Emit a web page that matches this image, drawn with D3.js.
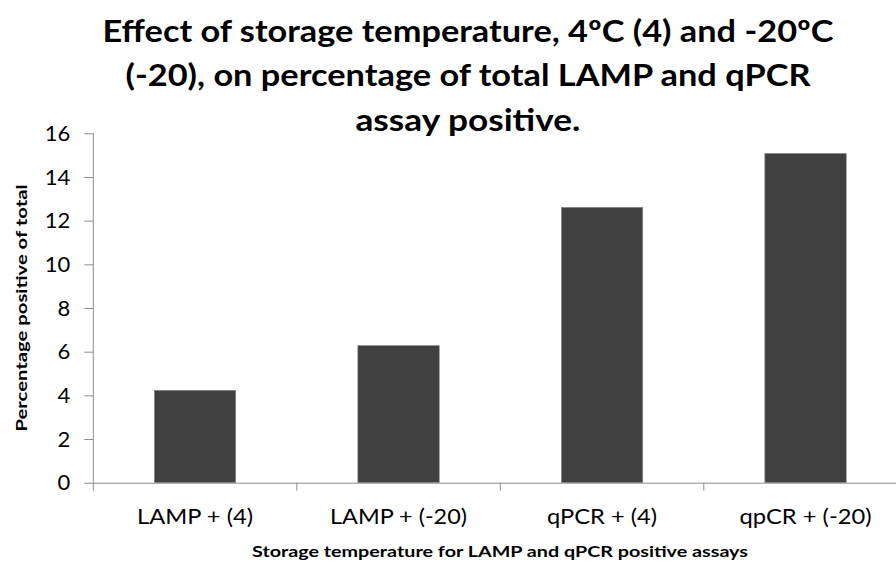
<!DOCTYPE html>
<html>
<head>
<meta charset="utf-8">
<script src="https://cdn.jsdelivr.net/npm/d3@7"></script>
<style>
    body { margin: 0; background: #fff; }
    svg text { font-family: Lato, "Open Sans", sans-serif; fill: #000; }
</style>
</head>
<body>
<div id="chart"></div>
<script>
// values
const categories = ['LAMP + (4)', 'LAMP + (-20)', 'qPCR + (4)', 'qpCR + (-20)'];
const percentPositive = [4.23, 6.28, 12.61, 15.08];
const yTicks = [0, 2, 4, 6, 8, 10, 12, 14, 16];
const titleLines = [
    'Effect of storage temperature, 4ºC (4) and -20ºC',
    '(-20), on percentage of total LAMP and qPCR',
    'assay positive.'
];
const xTitle = 'Storage temperature for LAMP and qPCR positive assays';
const yTitle = 'Percentage positive of total';

const width = 896, height = 563;
const margin = { top: 133.3, right: -11.3, bottom: 80.3, left: 93.3 };
const innerW = width - margin.left - margin.right;
const innerH = height - margin.top - margin.bottom;

const svg = d3.select('#chart').append('svg')
    .attr('width', width)
    .attr('height', height);

const chart = svg.append('g')
    .attr('transform', `translate(${margin.left}, ${margin.top})`);

const x = d3.scaleBand()
    .domain(categories)
    .range([0, innerW])
    .paddingInner(0.6)
    .paddingOuter(0.3);

const y = d3.scaleLinear()
    .domain([0, 16])
    .range([innerH, 0]);

// bars
chart.selectAll('rect.bar')
    .data(categories)
    .join('rect')
    .attr('class', 'bar')
    .attr('x', d => x(d))
    .attr('width', x.bandwidth())
    .attr('y', (d, i) => y(percentPositive[i]))
    .attr('height', (d, i) => y(0) - y(percentPositive[i]))
    .attr('fill', '#404040')
    .attr('stroke', '#8a8a8a')
    .attr('stroke-width', 0.6);

// y axis
const yAxis = chart.append('g')
    .call(d3.axisLeft(y).tickValues(yTicks).tickSize(9).tickPadding(14).tickFormat(d3.format('d')));
yAxis.select('.domain').attr('stroke', '#8c8c8c').attr('d', `M0,${y(0)}V${y(16)}`);
yAxis.selectAll('.tick line').attr('stroke', '#8c8c8c');
yAxis.selectAll('.tick text').style('font-size', '22px').attr('fill', '#111');

// x axis: labels from the band scale, boundary ticks between bands
const xLabelLen = [116, 137, 110, 132];
const xAxis = chart.append('g')
    .attr('transform', `translate(0, ${innerH})`)
    .call(d3.axisBottom(x).tickSize(0).tickPadding(26));
xAxis.select('.domain').attr('stroke', '#8c8c8c');
xAxis.selectAll('.tick text')
    .style('font-size', '22px')
    .attr('fill', '#111')
    .attr('textLength', (d, i) => xLabelLen[i])
    .attr('lengthAdjust', 'spacingAndGlyphs');

const bounds = categories.map(d => x(d) - x.step() * x.paddingOuter());
bounds.push(innerW);
xAxis.selectAll('line.bound')
    .data(bounds)
    .join('line')
    .attr('class', 'bound')
    .attr('x1', d => d).attr('x2', d => d)
    .attr('y1', 0).attr('y2', 8)
    .attr('stroke', '#8c8c8c');

// titles
const titleBase = [42, 86, 131];
const titleLen = [731, 685, 225];
svg.append('g').selectAll('text')
    .data(titleLines)
    .join('text')
    .attr('x', 468)
    .attr('y', (d, i) => titleBase[i])
    .attr('text-anchor', 'middle')
    .attr('textLength', (d, i) => titleLen[i])
    .attr('lengthAdjust', 'spacingAndGlyphs')
    .style('font-size', '30px')
    .style('font-weight', 'bold')
    .text(d => d);

svg.append('text')
    .attr('x', 500)
    .attr('y', 557)
    .attr('text-anchor', 'middle')
    .attr('textLength', 496)
    .attr('lengthAdjust', 'spacingAndGlyphs')
    .style('font-size', '16px')
    .style('font-weight', 'bold')
    .text(xTitle);

svg.append('text')
    .attr('transform', 'translate(27, 308) rotate(-90)')
    .attr('text-anchor', 'middle')
    .attr('textLength', 247)
    .attr('lengthAdjust', 'spacingAndGlyphs')
    .style('font-size', '16px')
    .style('font-weight', 'bold')
    .text(yTitle);
</script>
</body>
</html>
